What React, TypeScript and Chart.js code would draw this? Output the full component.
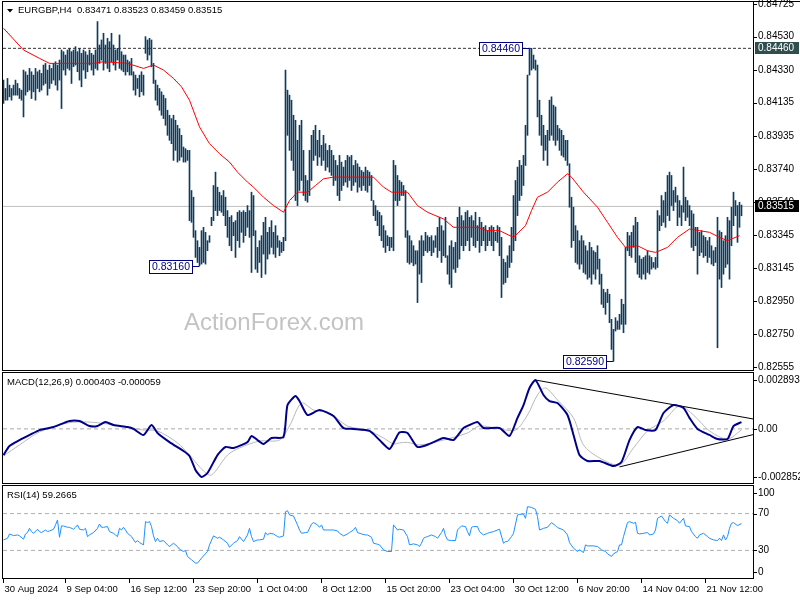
import React, { useEffect, useRef } from "react";
import { Chart, registerables } from "chart.js";
Chart.register(...registerables);

// ---------- data ----------
const SYMBOL = "EURGBP,H4";
const LAST_OHLC = ["0.83471", "0.83523", "0.83459", "0.83515"];
const MACD_TITLE = "MACD(12,26,9) 0.000403 -0.000059";
const RSI_TITLE = "RSI(14) 59.2665";
const WATERMARK = "ActionForex.com";

// H4 bar highs / lows (bar index 0 = 30 Aug 2024 00:00)
const highs = [
  0.8427, 0.8422, 0.8428, 0.8424, 0.8422, 0.8424, 0.8427, 0.8425, 0.8422, 0.8421,
  0.8433, 0.8432, 0.8430, 0.8434, 0.8432, 0.8430, 0.8434, 0.8432, 0.8433, 0.8431,
  0.8436, 0.8437, 0.8433, 0.8436, 0.8434, 0.8437, 0.8438, 0.8436, 0.8439, 0.8445,
  0.8444, 0.8442, 0.8445, 0.8446, 0.8444, 0.8445, 0.8447, 0.8444, 0.8446, 0.8443,
  0.8445, 0.8444, 0.8442, 0.8445, 0.8443, 0.8442, 0.8445, 0.8462, 0.8448, 0.8451,
  0.8455, 0.8448, 0.8452, 0.8450, 0.8455, 0.8448, 0.8445, 0.8446, 0.8454, 0.8444,
  0.8442, 0.8442, 0.8439, 0.8438, 0.8440, 0.8432, 0.8430, 0.8428, 0.8430, 0.8432,
  0.8430, 0.8453, 0.8451, 0.8452, 0.8451, 0.8437, 0.8427, 0.8424, 0.8422, 0.8420,
  0.8418, 0.8416, 0.8409, 0.8406, 0.8404, 0.8406, 0.8403, 0.8400, 0.8398, 0.8394,
  0.8387, 0.8386, 0.8385, 0.8385, 0.8361, 0.8357, 0.8337, 0.8331, 0.8327, 0.8337,
  0.8339, 0.8336, 0.8331, 0.8334, 0.8345, 0.8364, 0.8372, 0.8363, 0.8360, 0.8358,
  0.8361, 0.8357, 0.8349, 0.8345, 0.8346, 0.8342, 0.8343, 0.8348, 0.8349, 0.8348,
  0.8349, 0.8348, 0.8352, 0.8349, 0.8360, 0.8358, 0.8337, 0.8327, 0.8331, 0.8334,
  0.8342, 0.8345, 0.8336, 0.8339, 0.8343, 0.8336, 0.8340, 0.8334, 0.8331, 0.8330,
  0.8333, 0.8433, 0.8421, 0.8418, 0.8415, 0.8406, 0.8403, 0.8391, 0.8400, 0.8403,
  0.8385, 0.8370, 0.8367, 0.8385, 0.8394, 0.8397, 0.8400, 0.8391, 0.8397, 0.8388,
  0.8394, 0.8389, 0.8385, 0.8388, 0.8385, 0.8382, 0.8379, 0.8376, 0.8382, 0.8378,
  0.8375, 0.8379, 0.8382, 0.8381, 0.8382, 0.8376, 0.8379, 0.8377, 0.8375, 0.8373,
  0.8372, 0.8375, 0.8373, 0.8372, 0.8370, 0.8355, 0.8352, 0.8349, 0.8348, 0.8346,
  0.8340, 0.8337, 0.8334, 0.8333, 0.8333, 0.8379, 0.8376, 0.8370, 0.8367, 0.8366,
  0.8364, 0.8361, 0.8337, 0.8334, 0.8331, 0.8328, 0.8325, 0.8325, 0.8331, 0.8334,
  0.8331, 0.8336, 0.8334, 0.8333, 0.8334, 0.8331, 0.8334, 0.8339, 0.8345, 0.8340,
  0.8337, 0.8345, 0.8322, 0.8328, 0.8331, 0.8327, 0.8330, 0.8345, 0.8351, 0.8346,
  0.8343, 0.8348, 0.8349, 0.8345, 0.8346, 0.8343, 0.8348, 0.8340, 0.8345, 0.8342,
  0.8339, 0.8340, 0.8337, 0.8339, 0.8340, 0.8339, 0.8336, 0.8340, 0.8339, 0.8333,
  0.8320, 0.8318, 0.8322, 0.8328, 0.8339, 0.8358, 0.8367, 0.8375, 0.8379, 0.8376,
  0.8382, 0.8400, 0.8430, 0.8446, 0.8446, 0.8442, 0.8439, 0.8436, 0.8415, 0.8406,
  0.8400, 0.8394, 0.8397, 0.8415, 0.8417, 0.8412, 0.8411, 0.8400, 0.8398, 0.8397,
  0.8394, 0.8391, 0.8391, 0.8377, 0.8357, 0.8351, 0.8340, 0.8337, 0.8331, 0.8334,
  0.8331, 0.8328, 0.8325, 0.8330, 0.8327, 0.8325, 0.8324, 0.8328, 0.8320, 0.8311,
  0.8302, 0.8300, 0.8302, 0.8299, 0.8284, 0.8278, 0.8285, 0.8283, 0.8287, 0.8296,
  0.8293, 0.8327, 0.8336, 0.8334, 0.8336, 0.8340, 0.8345, 0.8342, 0.8322, 0.8320,
  0.8321, 0.8322, 0.8325, 0.8322, 0.8321, 0.8318, 0.8321, 0.8349, 0.8346, 0.8358,
  0.8355, 0.8360, 0.8370, 0.8372, 0.8370, 0.8361, 0.8363, 0.8358, 0.8355, 0.8352,
  0.8375, 0.8357, 0.8355, 0.8352, 0.8349, 0.8347, 0.8339, 0.8339, 0.8336, 0.8337,
  0.8334, 0.8333, 0.8331, 0.8333, 0.8328, 0.8325, 0.8327, 0.8345, 0.8337, 0.8336,
  0.8331, 0.8334, 0.8345, 0.8343, 0.8351, 0.8360, 0.8355, 0.8352, 0.8354, 0.83523,
];
const lows = [
  0.8413, 0.8415, 0.8415, 0.8417, 0.8415, 0.8418, 0.8418, 0.8418, 0.8416, 0.8415,
  0.8405, 0.8418, 0.8420, 0.8421, 0.8416, 0.8420, 0.8415, 0.8422, 0.8420, 0.8421,
  0.8424, 0.8425, 0.8418, 0.8422, 0.8425, 0.8427, 0.8424, 0.8421, 0.8427, 0.8410,
  0.8433, 0.8430, 0.8434, 0.8433, 0.8425, 0.8435, 0.8436, 0.8432, 0.8427, 0.8423,
  0.8433, 0.8428, 0.8432, 0.8436, 0.8433, 0.8430, 0.8434, 0.8433, 0.8437, 0.8439,
  0.8433, 0.8437, 0.8434, 0.8432, 0.8438, 0.8436, 0.8433, 0.8439, 0.8434, 0.8433,
  0.8432, 0.8430, 0.8432, 0.8430, 0.8430, 0.8421, 0.8418, 0.8422, 0.8417, 0.8420,
  0.8418, 0.8443, 0.8439, 0.8442, 0.8435, 0.8425, 0.8415, 0.8412, 0.8409, 0.8406,
  0.8404, 0.8400, 0.8394, 0.8391, 0.8389, 0.8379, 0.8385, 0.8378, 0.8379, 0.8381,
  0.8378, 0.8378, 0.8379, 0.8343, 0.8342, 0.8333, 0.8321, 0.8318, 0.8316, 0.8317,
  0.8318, 0.8317, 0.8325, 0.8330, 0.8340, 0.8343, 0.8349, 0.8346, 0.8349, 0.8348,
  0.8346, 0.8340, 0.8333, 0.8328, 0.8325, 0.8334, 0.8321, 0.8331, 0.8327, 0.8336,
  0.8330, 0.8334, 0.8339, 0.8333, 0.8312, 0.8334, 0.8314, 0.8312, 0.8318, 0.8309,
  0.8323, 0.8311, 0.8320, 0.8323, 0.8327, 0.8323, 0.8321, 0.8327, 0.8322, 0.8324,
  0.8325, 0.8331, 0.8394, 0.8385, 0.8379, 0.8373, 0.8355, 0.8352, 0.8361, 0.8367,
  0.8358, 0.8355, 0.8354, 0.8358, 0.8367, 0.8379, 0.8382, 0.8376, 0.8381, 0.8376,
  0.8379, 0.8373, 0.8375, 0.8372, 0.8370, 0.8364, 0.8367, 0.8358, 0.8355, 0.8361,
  0.8364, 0.8366, 0.8363, 0.8367, 0.8361, 0.8364, 0.8366, 0.8360, 0.8363, 0.8361,
  0.8364, 0.8361, 0.8360, 0.8364, 0.8355, 0.8346, 0.8343, 0.8340, 0.8334, 0.8331,
  0.8327, 0.8324, 0.8328, 0.8325, 0.8327, 0.8325, 0.8355, 0.8352, 0.8355, 0.8358,
  0.8358, 0.8333, 0.8318, 0.8317, 0.8318, 0.8316, 0.8317, 0.8294, 0.8311, 0.8306,
  0.8322, 0.8325, 0.8324, 0.8325, 0.8322, 0.8324, 0.8327, 0.8321, 0.8325, 0.8318,
  0.8322, 0.8321, 0.8311, 0.8305, 0.8303, 0.8314, 0.8312, 0.8315, 0.8320, 0.8328,
  0.8325, 0.8328, 0.8331, 0.8325, 0.8333, 0.8328, 0.8327, 0.8331, 0.8324, 0.8328,
  0.8331, 0.8325, 0.8328, 0.8331, 0.8328, 0.8325, 0.8331, 0.8330, 0.8322, 0.8297,
  0.8305, 0.8306, 0.8309, 0.8315, 0.8318, 0.8325, 0.8331, 0.8346, 0.8355, 0.8358,
  0.8364, 0.8376, 0.8394, 0.8430, 0.8433, 0.8434, 0.8433, 0.8405, 0.8394, 0.8388,
  0.8379, 0.8385, 0.8376, 0.8391, 0.8394, 0.8391, 0.8388, 0.8391, 0.8385, 0.8382,
  0.8381, 0.8379, 0.8376, 0.8351, 0.8327, 0.8331, 0.8318, 0.8317, 0.8314, 0.8317,
  0.8312, 0.8311, 0.8308, 0.8309, 0.8305, 0.8311, 0.8308, 0.8314, 0.8305, 0.8293,
  0.8291, 0.8287, 0.8294, 0.8282, 0.8266, 0.8259, 0.8277, 0.8278, 0.8278, 0.8281,
  0.8276, 0.8281, 0.8325, 0.8322, 0.8321, 0.8327, 0.8318, 0.8311, 0.8309, 0.8308,
  0.8311, 0.8308, 0.8312, 0.8311, 0.8314, 0.8315, 0.8314, 0.8315, 0.8337, 0.8340,
  0.8342, 0.8339, 0.8346, 0.8343, 0.8352, 0.8349, 0.8354, 0.8340, 0.8345, 0.8340,
  0.8348, 0.8343, 0.8345, 0.8340, 0.8327, 0.8325, 0.8328, 0.8311, 0.8322, 0.8324,
  0.8321, 0.8322, 0.8318, 0.8321, 0.8317, 0.8316, 0.8318, 0.8267, 0.8308, 0.8303,
  0.8311, 0.8315, 0.8317, 0.8308, 0.8328, 0.8340, 0.8346, 0.8330, 0.8339, 0.83459,
];

// moving average (red), [bar index, price]
const maPoints: [number, number][] = [
  [0, 0.8458], [10, 0.8445], [18, 0.8440], [23, 0.8437], [35, 0.8437], [45, 0.8437], [50, 0.8438],
  [62, 0.8437], [70, 0.8434], [75, 0.8436], [80, 0.8433], [85, 0.8428], [89, 0.8423], [93, 0.8415],
  [98, 0.8399], [103, 0.8389], [108, 0.8383], [113, 0.8378], [117, 0.8372], [122, 0.8366], [125, 0.8363],
  [130, 0.8357], [135, 0.8352], [140, 0.8348], [143, 0.8355], [147, 0.8360], [152, 0.8360], [156, 0.8364],
  [160, 0.8368], [165, 0.8369], [173, 0.8369], [182, 0.8369], [185, 0.8369], [190, 0.8363], [194, 0.8360],
  [202, 0.8360], [207, 0.8352], [212, 0.8348], [220, 0.8344], [225, 0.8339], [232, 0.8339], [237, 0.8339],
  [242, 0.8337], [248, 0.8337], [255, 0.8333], [261, 0.8340], [264, 0.8349], [267, 0.8357], [272, 0.8360],
  [277, 0.8366], [282, 0.8371], [284, 0.8369], [290, 0.8360], [297, 0.8351], [302, 0.8342], [307, 0.8333],
  [311, 0.8327], [317, 0.8328], [322, 0.8325], [326, 0.8324], [332, 0.8327], [337, 0.8333], [343, 0.8338],
  [348, 0.8337], [353, 0.8336], [358, 0.8333], [362, 0.8331], [368, 0.8334],
];

// MACD main line
const macdPoints: [number, number][] = [
  [0, -0.00155], [3, -0.00101], [8, -0.00066], [13, -0.00036], [18, -0.00007], [25, 0.00011], [33, 0.00047],
  [38, 0.00047], [43, 0.00017], [47, 0.00017], [51, 0.00041], [55, 0.00023], [62, 0.00011], [65, 0],
  [70, -0.00036], [74, 0.00023], [77, -0.00024], [83, -0.00078], [90, -0.00131], [93, -0.0016], [96, -0.00243],
  [99, -0.002852], [102, -0.00261], [107, -0.00155], [111, -0.00107], [115, -0.00113], [122, -0.00078],
  [124, -0.00042], [127, -0.00066], [130, -0.00089], [134, -0.00054], [140, -0.00048], [142, 0.00141],
  [146, 0.00195], [148, 0.00165], [152, 0.00082], [158, 0.00112], [165, 0.00076], [170, 0.00005], [175, 0],
  [183, -0.00012], [188, -0.00066], [193, -0.00119], [196, -0.0006], [198, -0.0002], [202, -0.00024],
  [207, -0.00107], [213, -0.00089], [220, -0.00054], [225, -0.00066], [230, 0.00005], [233, 0.00023],
  [237, 0.00041], [240, 0.00005], [248, 0.00005], [253, -0.00042], [257, 0.00065], [260, 0.00141],
  [263, 0.00242], [266, 0.002893], [270, 0.00201], [273, 0.00165], [277, 0.00153], [282, 0.00082],
  [285, -0.00036], [288, -0.00155], [292, -0.0019], [298, -0.0019], [305, -0.0022], [309, -0.00196],
  [313, -0.00066], [317, 0.00011], [321, -0.00007], [326, -0.00007], [330, 0.00094], [335, 0.00141],
  [340, 0.00124], [343, 0.00065], [347, 0], [353, -0.00036], [357, -0.0006], [362, -0.0006], [365, 0.00017],
  [369, 0.000403],
];
// MACD signal line
const signalPoints: [number, number][] = [
  [0, -0.0016], [8, -0.00095], [18, -0.00018], [32, 0.00035], [42, 0.00041], [52, 0.00029], [62, 0.00011],
  [70, -0.00007], [77, -0.00012], [87, -0.00083], [93, -0.00155], [100, -0.00249], [104, -0.00273],
  [112, -0.00155], [118, -0.00113], [128, -0.00072], [138, -0.00066], [143, 0.00017], [149, 0.00153],
  [155, 0.00112], [163, 0.00094], [172, 0.00017], [182, -0.00007], [190, -0.00054], [195, -0.00089],
  [198, -0.00083], [202, -0.0008], [208, -0.00095], [220, -0.00066], [232, -0.00024], [238, 0.00017],
  [248, 0], [256, -0.00007], [262, 0.00082], [267, 0.00201], [271, 0.00242], [277, 0.00171], [285, 0.00065],
  [290, -0.00095], [298, -0.00172], [308, -0.00213], [315, -0.00113], [322, -0.00012], [330, 0.00047],
  [338, 0.00136], [345, 0.00082], [353, -0.00012], [362, -0.0006], [369, -0.000059],
];
// MACD trend lines (triangle)
const macdUpperLine: [number, number][] = [[266, 0.002893], [374.75, 0.00059]];
const macdLowerLine: [number, number][] = [[308, -0.00225], [374.75, -0.00034]];

// RSI(14)
const rsiPoints: [number, number][] = [
  [0, 41.4], [2, 43.2], [3, 47.9], [5, 46.1], [7, 46.8], [8, 45.8], [10, 42.2], [11, 47.9], [12, 49.4],
  [13, 54.0], [14, 50.4], [15, 48.6], [17, 53.0], [18, 50.4], [19, 49.4], [21, 52.2], [22, 50.4], [23, 51.2],
  [25, 53.0], [26, 57.7], [27, 63.1], [28, 44.3], [29, 56.6], [30, 56.6], [32, 55.1], [33, 55.1], [35, 53.0],
  [36, 55.1], [37, 57.7], [38, 53.0], [40, 52.2], [41, 54.0], [42, 45.0], [43, 46.8], [45, 49.4], [47, 54.0],
  [48, 58.7], [49, 55.1], [50, 55.1], [52, 55.9], [53, 50.4], [55, 48.6], [56, 46.8], [57, 45.0], [58, 54.0],
  [59, 52.2], [60, 55.1], [61, 52.2], [62, 48.6], [64, 45.0], [66, 38.5], [67, 40.7], [68, 38.5], [70, 36.0],
  [71, 61.3], [72, 60.2], [73, 61.3], [74, 55.9], [75, 45.8], [76, 39.6], [77, 43.2], [78, 39.6], [80, 40.7],
  [82, 36.0], [83, 34.2], [85, 37.8], [87, 34.2], [88, 31.3], [90, 28.8], [91, 29.9], [92, 23.4], [94, 19.8],
  [96, 16.2], [97, 16.2], [99, 21.6], [102, 28.8], [103, 36.0], [105, 45.8], [107, 43.2], [108, 44.3],
  [110, 41.4], [112, 37.8], [113, 33.5], [115, 37.8], [117, 40.7], [118, 45.0], [120, 39.6], [122, 46.8],
  [123, 54.0], [124, 45.0], [125, 39.6], [127, 41.4], [128, 41.4], [130, 42.2], [131, 49.4], [132, 46.8],
  [133, 48.6], [135, 47.9], [137, 45.0], [138, 44.3], [140, 45.8], [141, 72.1], [142, 73.1], [143, 68.5],
  [145, 67.4], [147, 57.7], [148, 52.2], [149, 48.6], [151, 49.4], [152, 49.4], [154, 58.7], [155, 60.2],
  [157, 57.7], [158, 55.1], [159, 57.7], [160, 52.2], [162, 52.2], [163, 52.2], [165, 52.2], [167, 51.2],
  [168, 48.6], [170, 45.8], [172, 47.9], [173, 49.4], [175, 52.2], [176, 55.1], [177, 49.4], [179, 47.9],
  [181, 46.8], [182, 46.8], [184, 44.3], [185, 37.8], [187, 36.7], [188, 36.0], [190, 30.6], [192, 28.8],
  [194, 28.8], [195, 57.7], [197, 52.2], [198, 53.0], [200, 52.2], [202, 45.0], [203, 36.0], [205, 37.1],
  [207, 36.0], [208, 34.2], [209, 37.8], [210, 43.2], [211, 44.3], [212, 45.0], [214, 46.8], [216, 45.0],
  [217, 43.2], [219, 49.4], [220, 54.0], [221, 45.8], [222, 41.4], [224, 40.7], [226, 40.7], [227, 52.2],
  [229, 56.6], [231, 55.9], [232, 50.4], [233, 45.8], [234, 55.1], [235, 55.9], [237, 55.9], [238, 50.4],
  [240, 46.8], [242, 48.6], [243, 49.4], [245, 50.4], [247, 52.2], [248, 53.0], [250, 37.8], [251, 39.6],
  [252, 39.6], [254, 45.0], [255, 48.6], [257, 68.5], [258, 69.2], [260, 69.5], [261, 64.9], [262, 77.5],
  [264, 76.8], [266, 74.6], [267, 66.7], [268, 52.2], [270, 54.0], [272, 55.1], [274, 60.2], [276, 56.9],
  [277, 54.8], [280, 52.2], [282, 46.8], [283, 38.5], [285, 32.4], [287, 28.8], [288, 30.6], [290, 27.7],
  [291, 36.0], [292, 34.9], [295, 34.9], [297, 34.2], [299, 30.6], [301, 28.8], [302, 26.3], [304, 23.4],
  [305, 26.3], [307, 28.8], [308, 36.0], [309, 36.0], [310, 45.0], [312, 60.2], [313, 61.3], [315, 59.5],
  [316, 60.5], [317, 48.6], [318, 47.9], [320, 48.6], [322, 49.4], [323, 46.8], [325, 47.9], [326, 52.2],
  [327, 64.9], [329, 67.4], [331, 61.3], [332, 59.5], [333, 68.5], [335, 64.9], [337, 62.3], [338, 59.5],
  [340, 64.9], [341, 56.6], [343, 55.9], [344, 50.4], [346, 45.0], [347, 43.2], [348, 46.8], [350, 48.6],
  [352, 45.0], [353, 43.2], [355, 41.4], [357, 40.7], [358, 43.2], [359, 40.7], [360, 46.8], [361, 41.4],
  [362, 45.0], [363, 54.0], [364, 59.5], [365, 60.2], [367, 56.9], [369, 59.27],
];

// axes
const priceTicks = [0.84725, 0.8453, 0.8433, 0.84135, 0.83935, 0.8374, 0.8354, 0.83345, 0.83145, 0.8295, 0.8275, 0.82555];
const macdTicks = [0.002893, 0, -0.002852];
const macdTickLabels = ["0.002893", "0.00", "-0.002852"];
const rsiTicks = [100, 70, 30, 0];
const rsiLevels = [70, 30];
const xTickIdx = [0, 31, 63, 95, 127, 159, 191, 223, 255, 287, 319, 351];
const xTickLabels = [
  "30 Aug 2024", "9 Sep 04:00", "16 Sep 12:00", "23 Sep 20:00", "1 Oct 04:00", "8 Oct 12:00",
  "15 Oct 20:00", "23 Oct 04:00", "30 Oct 12:00", "6 Nov 20:00", "14 Nov 04:00", "21 Nov 12:00",
];
const resistanceLevel = 0.8446;
const lastClose = 0.83515;
const markerIdx = [263, 98, 305];
const markerPrice = [0.8446, 0.8316, 0.8259];

const X_MIN = -0.25;
const X_MAX = 374.75;
const PRICE_MIN = 0.82537;
const PRICE_MAX = 0.84737;
const MACD_MIN = -0.003203;
const MACD_MAX = 0.003309;

const FONT = '"Liberation Sans", Arial, sans-serif';

// ---------- helpers ----------
function setFont(ctx: CanvasRenderingContext2D, px: number) {
  ctx.font = `${px}px ${FONT}`;
}

function drawFrame(chart: any) {
  const { ctx, chartArea: a } = chart;
  ctx.save();
  ctx.strokeStyle = "#000";
  ctx.lineWidth = 1;
  ctx.strokeRect(a.left - 0.5, a.top - 0.5, a.right - a.left + 1, a.bottom - a.top + 1);
  ctx.restore();
}

function drawAxisLabels(chart: any, values: number[], labels: string[], clamp: boolean) {
  const { ctx, chartArea: a } = chart;
  const ys = chart.scales.y;
  ctx.save();
  setFont(ctx, 10);
  ctx.fillStyle = "#000";
  ctx.strokeStyle = "#000";
  ctx.lineWidth = 1;
  ctx.textAlign = "left";
  ctx.textBaseline = "middle";
  values.forEach((v, k) => {
    let py = ys.getPixelForValue(v);
    if (clamp) py = Math.min(Math.max(py, a.top + 7), a.bottom - 6);
    const yy = Math.round(py) + 0.5;
    ctx.beginPath();
    ctx.moveTo(a.right + 1, yy);
    ctx.lineTo(a.right + 4, yy);
    ctx.stroke();
    ctx.fillText(labels[k], a.right + 5, py);
  });
  ctx.restore();
}

function drawPriceTag(chart: any, value: number, fill: string) {
  const { ctx, chartArea: a } = chart;
  const py = Math.round(chart.scales.y.getPixelForValue(value));
  ctx.save();
  ctx.fillStyle = fill;
  ctx.fillRect(a.right + 2, py - 6, 44, 12);
  setFont(ctx, 10);
  ctx.fillStyle = "#fff";
  ctx.textAlign = "left";
  ctx.textBaseline = "middle";
  ctx.fillText(value.toFixed(5), a.right + 5, py);
  ctx.restore();
}

function drawMarker(chart: any, idx: number, price: number) {
  const { ctx } = chart;
  const bx = chart.scales.x.getPixelForValue(idx);
  const pyr = Math.round(chart.scales.y.getPixelForValue(price));
  const label = price.toFixed(5);
  ctx.save();
  setFont(ctx, 10.5);
  const w = Math.ceil(ctx.measureText(label).width) + 5;
  const h = 13;
  const right = Math.round(bx) - 8;
  const left = right - w;
  const top = pyr - 6;
  ctx.fillStyle = "#fff";
  ctx.fillRect(left, top, w, h);
  ctx.strokeStyle = "#000080";
  ctx.lineWidth = 1;
  ctx.strokeRect(left + 0.5, top + 0.5, w, h);
  ctx.beginPath();
  ctx.moveTo(right + 0.5, pyr + 0.5);
  ctx.lineTo(bx, pyr + 0.5);
  ctx.stroke();
  ctx.fillStyle = "#000080";
  ctx.textAlign = "center";
  ctx.textBaseline = "middle";
  ctx.fillText(label, left + w / 2 + 0.5, top + h / 2 + 1);
  ctx.restore();
}

function commonOptions(yMin: number, yMax: number, padding: any) {
  return {
    animation: false as const,
    responsive: false,
    maintainAspectRatio: false,
    events: [] as any[],
    layout: { padding },
    scales: {
      x: { type: "linear" as const, min: X_MIN, max: X_MAX, display: false, offset: false, grid: { offset: false } },
      y: { type: "linear" as const, min: yMin, max: yMax, display: false },
    },
    plugins: { legend: { display: false }, tooltip: { enabled: false } },
  };
}

const toXY = (pts: [number, number][]) => pts.map(([x, y]) => ({ x, y }));
const hLine = (v: number) => [{ x: X_MIN, y: v }, { x: X_MAX, y: v }];

// ---------- charts ----------
function makeMain(canvas: HTMLCanvasElement) {
  const decor = {
    id: "mainDecor",
    beforeDatasetsDraw(chart: any) {
      const ctx = chart.ctx;
      ctx.save();
      setFont(ctx, 24);
      ctx.fillStyle = "#c3c3c3";
      ctx.textAlign = "left";
      ctx.textBaseline = "alphabetic";
      ctx.fillText(WATERMARK, 184, 330);
      ctx.restore();
    },
    afterDraw(chart: any) {
      const ctx = chart.ctx;
      const a = chart.chartArea;
      drawFrame(chart);
      ctx.save();
      ctx.strokeStyle = "#000";
      ctx.beginPath();
      ctx.moveTo(a.right, 1.5);
      ctx.lineTo(800, 1.5);
      ctx.stroke();
      ctx.restore();
      drawAxisLabels(chart, priceTicks, priceTicks.map((v) => v.toFixed(5)), false);
      drawPriceTag(chart, resistanceLevel, "#2f4f4f");
      drawPriceTag(chart, lastClose, "#000");
      markerIdx.forEach((idx, k) => drawMarker(chart, idx, markerPrice[k]));
      // header
      ctx.save();
      ctx.fillStyle = "#000";
      ctx.beginPath();
      ctx.moveTo(7, 9);
      ctx.lineTo(13, 9);
      ctx.lineTo(10, 12.5);
      ctx.closePath();
      ctx.fill();
      setFont(ctx, 9.5);
      ctx.textAlign = "left";
      ctx.textBaseline = "middle";
      ctx.fillText(`${SYMBOL}  ${LAST_OHLC.join(" ")}`, 18, 10.5);
      ctx.restore();
    },
  };
  const opts: any = commonOptions(PRICE_MIN, PRICE_MAX, { left: 3, right: 47, top: 2, bottom: 1 });
  return new Chart(canvas, {
    type: "bar",
    data: {
      datasets: [
        {
          type: "bar",
          data: highs.map((h, i) => ({ x: i, y: [lows[i], h] })) as any,
          backgroundColor: "#123a5c",
          borderWidth: 0,
          barThickness: 1,
          grouped: false,
          order: 2,
        } as any,
        {
          type: "line",
          data: toXY(maPoints),
          borderColor: "#ff0000",
          borderWidth: 1,
          pointRadius: 0,
          tension: 0,
          order: 1,
        },
        {
          type: "line",
          data: hLine(resistanceLevel),
          borderColor: "#333333",
          borderWidth: 1,
          borderDash: [3, 2],
          pointRadius: 0,
          order: 3,
        },
        {
          type: "line",
          data: hLine(lastClose),
          borderColor: "#c0c0c0",
          borderWidth: 1,
          pointRadius: 0,
          order: 3,
        },
      ],
    },
    options: opts,
    plugins: [decor],
  });
}

function makeMacd(canvas: HTMLCanvasElement) {
  const decor = {
    id: "macdDecor",
    afterDraw(chart: any) {
      const ctx = chart.ctx;
      drawFrame(chart);
      drawAxisLabels(chart, macdTicks, macdTickLabels, false);
      ctx.save();
      setFont(ctx, 9.5);
      ctx.fillStyle = "#000";
      ctx.textAlign = "left";
      ctx.textBaseline = "middle";
      ctx.fillText(MACD_TITLE, 7, 11);
      ctx.restore();
    },
  };
  const opts: any = commonOptions(MACD_MIN, MACD_MAX, { left: 3, right: 47, top: 2, bottom: 1 });
  return new Chart(canvas, {
    type: "line",
    data: {
      datasets: [
        { data: hLine(0), borderColor: "#a8a8a8", borderWidth: 1, borderDash: [4, 3], pointRadius: 0, order: 4 },
        { data: toXY(signalPoints), borderColor: "#b8b8b8", borderWidth: 1, pointRadius: 0, tension: 0.3, order: 3 },
        { data: toXY(macdPoints), borderColor: "#000088", borderWidth: 2, pointRadius: 0, tension: 0.2, order: 1 },
        { data: toXY(macdUpperLine), borderColor: "#000", borderWidth: 1, pointRadius: 0, order: 2 },
        { data: toXY(macdLowerLine), borderColor: "#000", borderWidth: 1, pointRadius: 0, order: 2 },
      ],
    },
    options: opts,
    plugins: [decor],
  });
}

function makeRsi(canvas: HTMLCanvasElement) {
  const decor = {
    id: "rsiDecor",
    afterDraw(chart: any) {
      const ctx = chart.ctx;
      const a = chart.chartArea;
      const xs = chart.scales.x;
      drawFrame(chart);
      drawAxisLabels(chart, rsiTicks, rsiTicks.map(String), true);
      ctx.save();
      setFont(ctx, 9.5);
      ctx.fillStyle = "#000";
      ctx.strokeStyle = "#000";
      ctx.lineWidth = 1;
      ctx.textAlign = "left";
      ctx.textBaseline = "middle";
      ctx.fillText(RSI_TITLE, 7, 11);
      xTickIdx.forEach((idx, k) => {
        const px = xs.getPixelForValue(idx);
        ctx.beginPath();
        ctx.moveTo(px, a.bottom + 1);
        ctx.lineTo(px, a.bottom + 5);
        ctx.stroke();
        ctx.fillText(xTickLabels[k], px + 1, a.bottom + 11);
      });
      ctx.restore();
    },
  };
  const opts: any = commonOptions(0, 100, { left: 3, right: 47, top: 2, bottom: 22 });
  return new Chart(canvas, {
    type: "line",
    data: {
      datasets: [
        ...rsiLevels.map((lv) => ({
          data: hLine(lv),
          borderColor: "#b0b0b0",
          borderWidth: 1,
          borderDash: [4, 3],
          pointRadius: 0,
          order: 3,
        })),
        { data: toXY(rsiPoints), borderColor: "#1e90ff", borderWidth: 1, pointRadius: 0, tension: 0, order: 1 },
      ],
    },
    options: opts,
    plugins: [decor],
  });
}

export default function App() {
  const r1 = useRef<HTMLCanvasElement>(null);
  const r2 = useRef<HTMLCanvasElement>(null);
  const r3 = useRef<HTMLCanvasElement>(null);
  useEffect(() => {
    const charts = [makeMain(r1.current!), makeMacd(r2.current!), makeRsi(r3.current!)];
    return () => charts.forEach((c) => c.destroy());
  }, []);
  const cs = (top: number, h: number): React.CSSProperties => ({
    position: "absolute",
    left: 0,
    top,
    width: 800,
    height: h,
    display: "block",
  });
  return (
    <div style={{ position: "fixed", left: 0, top: 0, width: 800, height: 600, background: "#fff", overflow: "hidden" }}>
      <canvas ref={r1} width={800} height={371} style={cs(0, 371)} />
      <canvas ref={r2} width={800} height={113} style={cs(371, 113)} />
      <canvas ref={r3} width={800} height={116} style={cs(484, 116)} />
    </div>
  );
}
